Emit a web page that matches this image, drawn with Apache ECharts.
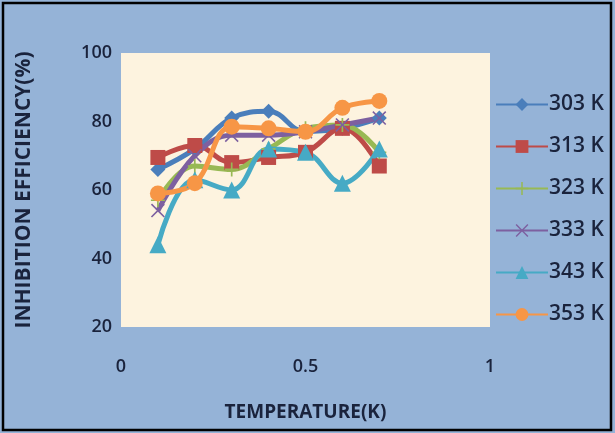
<!DOCTYPE html>
<html>
<head>
<meta charset="utf-8">
<script src="https://cdn.jsdelivr.net/npm/echarts@6/dist/echarts.min.js"></script>
<style>
  html, body { margin: 0; padding: 0; background: #ffffff; }
  #chart { width: 615px; height: 433px; }
</style>
</head>
<body>
<div id="chart"></div>
<script>
// Inhibitor concentration steps along the horizontal axis
const xValues = [0.1, 0.2, 0.3, 0.4, 0.5, 0.6, 0.7];

// Inhibition efficiency (%) for each temperature
const seriesNames = ['303 K', '313 K', '323 K', '333 K', '343 K', '353 K'];
const ie303 = [66, 72, 81, 83, 77, 78, 81];
const ie313 = [69.5, 73, 68, 69.5, 71, 78, 67];
const ie323 = [57, 67, 66, 72, 78, 79, 71];
const ie333 = [54, 70, 76, 76, 77, 79, 81];
const ie343 = [44, 63, 60, 72, 71, 62, 72];
const ie353 = [59, 62, 78.5, 78, 77, 84, 86];

const xTicks = [0, 0.5, 1];
const yTicks = [20, 40, 60, 80, 100];

const allValues = [ie303, ie313, ie323, ie333, ie343, ie353];
const colors = ['#4A7EBB', '#BE4B48', '#98B954', '#7D60A0', '#46AAC5', '#F79646'];

const plusPath = 'path://M4.4,0 L5.6,0 L5.6,4.4 L10,4.4 L10,5.6 L5.6,5.6 L5.6,10 L4.4,10 L4.4,5.6 L0,5.6 L0,4.4 L4.4,4.4 Z';
const crossPath = 'path://M0.8,0 L5,4.2 L9.2,0 L10,0.8 L5.8,5 L10,9.2 L9.2,10 L5,5.8 L0.8,10 L0,9.2 L4.2,5 L0,0.8 Z';
const symbols = ['diamond', 'rect', plusPath, crossPath, 'triangle', 'circle'];
const symbolSizes = [15, 15, 14, 14, 17, 16];

const series = seriesNames.map((name, i) => ({
  name: name,
  type: 'line',
  smooth: 0.4,
  data: xValues.map((x, j) => [x, allValues[i][j]]),
  symbol: symbols[i],
  symbolSize: symbolSizes[i],
  showSymbol: true,
  lineStyle: { color: colors[i], width: 5 },
  itemStyle: { color: colors[i], borderWidth: 0 },
  emphasis: { disabled: true }
}));

const chart = echarts.init(document.getElementById('chart'), null, { renderer: 'canvas' });

const fontFamily = '"Open Sans", Lato, sans-serif';
const textColor = '#1A233C';
const tickFont = { fontFamily: fontFamily, fontSize: 18, fontWeight: 600, color: textColor };

chart.setOption({
  animation: false,
  backgroundColor: '#95B3D7',
  graphic: [{
    type: 'rect',
    shape: { x: 3, y: 3, width: 608, height: 427 },
    style: { fill: 'none', stroke: '#000000', lineWidth: 2.5 },
    silent: true,
    z: 100
  }],
  grid: {
    left: 121, right: 125, top: 53, bottom: 106,
    show: true,
    backgroundColor: '#FDF3DF',
    borderWidth: 0
  },
  legend: {
    orient: 'vertical',
    left: 490,
    top: 89,
    itemWidth: 52,
    itemHeight: 16,
    itemGap: 21,
    textStyle: { fontFamily: fontFamily, fontSize: 21, fontWeight: 600, color: textColor, padding: [0, 0, 0, -4] },
    data: seriesNames
  },
  xAxis: {
    type: 'value',
    min: 0, max: 1, interval: 0.5,
    name: 'TEMPERATURE(K)',
    nameLocation: 'middle',
    nameGap: 76,
    nameTextStyle: { fontFamily: fontFamily, fontSize: 19, fontWeight: 'bold', color: textColor },
    axisLine: { show: false },
    axisTick: { show: false },
    splitLine: { show: false },
    axisLabel: Object.assign({}, tickFont, {
      margin: 31,
      formatter: v => xTicks.includes(v) ? String(v) : ''
    })
  },
  yAxis: {
    type: 'value',
    min: 20, max: 100, interval: 20,
    name: 'INHIBITION EFFICIENCY(%)',
    nameLocation: 'middle',
    nameRotate: 90,
    nameGap: 86,
    nameTextStyle: { fontFamily: fontFamily, fontSize: 21, fontWeight: 'bold', color: textColor },
    axisLine: { show: false },
    axisTick: { show: false },
    splitLine: { show: false },
    axisLabel: Object.assign({}, tickFont, {
      margin: 9,
      formatter: v => yTicks.includes(v) ? String(v) : ''
    })
  },
  series: series
});
</script>
</body>
</html>
